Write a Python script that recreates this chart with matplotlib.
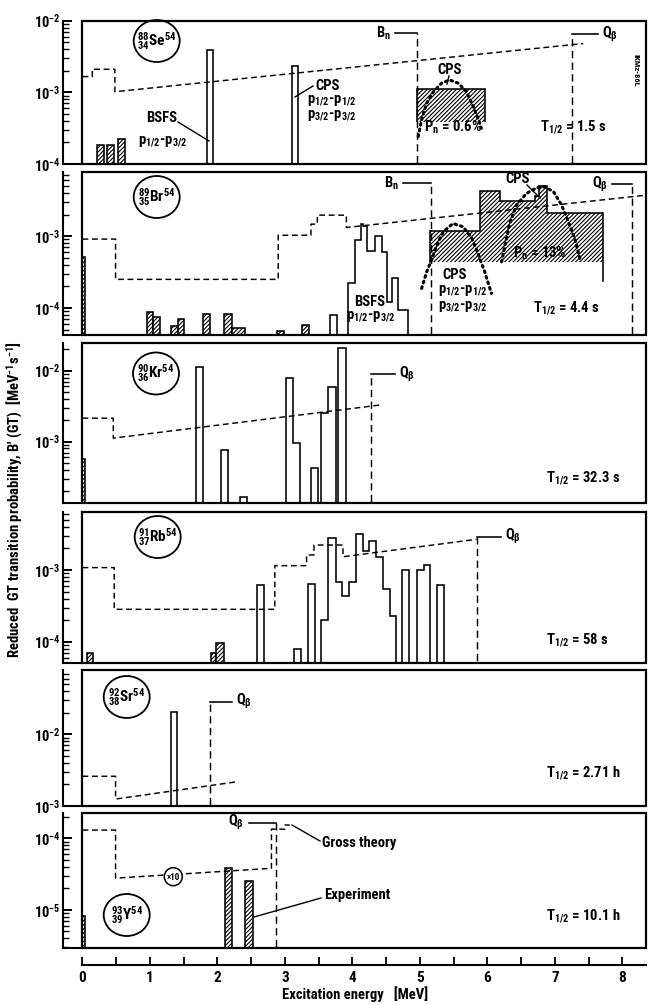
import numpy as np
import matplotlib
matplotlib.use('Agg')
import matplotlib.pyplot as plt
from matplotlib import font_manager
from matplotlib.patches import Ellipse, Rectangle
from matplotlib.lines import Line2D
from matplotlib.ticker import LogLocator, FuncFormatter, NullFormatter, MultipleLocator

names = {f.name for f in font_manager.fontManager.ttflist}
FONT = 'DejaVu Sans'
for cand in ['Roboto Condensed', 'Liberation Sans Narrow', 'Open Sans Condensed', 'DejaVu Sans']:
    if cand in names:
        FONT = cand
        break
plt.rcParams['font.family'] = [FONT, 'DejaVu Sans']
plt.rcParams['font.weight'] = 'bold'
plt.rcParams['mathtext.fontset'] = 'custom'
plt.rcParams['mathtext.rm'] = FONT + ':bold'
plt.rcParams['mathtext.it'] = FONT + ':bold'
plt.rcParams['mathtext.bf'] = FONT + ':bold'
plt.rcParams['hatch.linewidth'] = 0.8

# ---------------- data ----------------
XMAX = 8.35
xticks_major = [0, 1, 2, 3, 4, 5, 6, 7, 8]

# 88Se
se_ylim = (1e-4, 1e-2)
se_theory_x = [0, 0.145, 0.145, 0.48, 0.48, 7.42]
se_theory_y = [1.66e-3, 1.66e-3, 2.1e-3, 2.1e-3, 1.02e-3, 4.8e-3]
se_hatch_l = [0.22, 0.37, 0.53]
se_hatch_r = [0.32, 0.47, 0.63]
se_hatch_v = [1.83e-4, 1.83e-4, 2.26e-4]
se_open_edges = [[1.84, 1.94], [3.10, 3.19]]
se_open_vals = [[3.9e-3], [2.3e-3]]
se_pn_edges = [4.95, 5.96]
se_pn_vals = [1.11e-3]
se_pn_floor = 3.9e-4
se_cps_x = [4.975, 5.024, 5.10, 5.20, 5.32, 5.44, 5.57, 5.69, 5.79, 5.87, 5.91]
se_cps_y = [2.41e-4, 4.12e-4, 7.05e-4, 1.02e-3, 1.34e-3, 1.49e-3, 1.34e-3, 1.02e-3, 6.32e-4, 4.12e-4, 3.15e-4]
se_marks = [(4.95, 6.67e-3, r'B$_n$', 'left', 0.32), (7.26, 6.45e-3, r'Q$_\beta$', 'right', 0.38)]

# 89Br
br_ylim = (4.2e-5, 7.9e-3)
br_theory_x = [0, 0.49, 0.49, 2.90, 2.90, 3.385, 3.385, 3.48, 3.48, 3.91, 3.91, 8.33]
br_theory_y = [9.1e-4, 9.1e-4, 2.5e-4, 2.5e-4, 1.03e-3, 1.03e-3, 1.47e-3, 1.47e-3, 1.96e-3, 1.96e-3, 1.32e-3, 3.7e-3]
br_hatch_l = [0.0, 0.95, 1.05, 1.31, 1.41, 1.79, 2.09, 2.21, 2.88, 3.25]
br_hatch_r = [0.04, 1.05, 1.15, 1.41, 1.51, 1.89, 2.21, 2.41, 2.98, 3.35]
br_hatch_v = [5.1e-4, 8.8e-5, 7.5e-5, 5.6e-5, 7.0e-5, 8.2e-5, 8.2e-5, 5.3e-5, 4.7e-5, 5.7e-5]
br_open_edges = [[3.67, 3.77], [3.94, 4.04, 4.12, 4.16, 4.21, 4.33, 4.44, 4.51, 4.58, 4.68, 4.83]]
br_open_vals = [[7.9e-5], [2.2e-4, 8.8e-4, 1.5e-3, 1.38e-3, 6.2e-4, 1.0e-3, 6.0e-4, 1.2e-4, 2.6e-4, 9.5e-5]]
br_pn_edges = [5.15, 5.89, 6.19, 6.70, 6.77, 6.89, 7.72]
br_pn_vals = [1.19e-3, 4.2e-3, 3.1e-3, 3.6e-3, 5.0e-3, 2.07e-3]
br_pn_floor = 4.3e-4
br_pn_right_low = 2.4e-4
br_cps1_x = [5.025, 5.10, 5.17, 5.25, 5.345, 5.49, 5.64, 5.77, 5.86, 5.96, 6.06]
br_cps1_y = [1.87e-4, 3.18e-4, 4.62e-4, 7.48e-4, 1.15e-3, 1.50e-3, 1.35e-3, 9.3e-4, 5.74e-4, 3.18e-4, 1.59e-4]
br_cps2_x = [6.21, 6.26, 6.33, 6.43, 6.58, 6.73, 6.85, 6.98, 7.10, 7.20, 7.30, 7.37]
br_cps2_y = [4.39e-4, 7.48e-4, 1.50e-3, 2.70e-3, 3.94e-3, 4.72e-3, 4.88e-3, 4.15e-3, 2.70e-3, 1.58e-3, 8.8e-4, 4.89e-4]
br_marks = [(5.16, 5.43e-3, r'B$_n$', 'left', 0.41), (8.14, 5.25e-3, r'Q$_\beta$', 'left', 0.30)]

# 90Kr
kr_ylim = (1.35e-4, 2.48e-2)
kr_theory_x = [0, 0.456, 0.456, 4.43]
kr_theory_y = [2.14e-3, 2.14e-3, 1.12e-3, 3.3e-3]
kr_hatch_l = [0.0]
kr_hatch_r = [0.04]
kr_hatch_v = [5.6e-4]
kr_open_edges = [[1.68, 1.78], [2.05, 2.15], [2.34, 2.44], [3.01, 3.12, 3.22], [3.385, 3.49], [3.54, 3.64, 3.75], [3.79, 3.90]]
kr_open_vals = [[1.14e-2], [7.5e-4], [1.68e-4], [7.8e-3, 9.5e-4], [4.2e-4], [2.5e-3, 5.8e-3], [2.1e-2]]
kr_marks = [(4.28, 8.9e-3, r'Q$_\beta$', 'right', 0.35)]

# 91Rb
rb_ylim = (5.1e-5, 6.5e-3)
rb_theory_x = [0, 0.47, 0.47, 2.85, 2.85, 3.32, 3.32, 3.43, 3.43, 3.86, 3.86, 5.84]
rb_theory_y = [1.08e-3, 1.08e-3, 2.83e-4, 2.83e-4, 1.15e-3, 1.15e-3, 1.62e-3, 1.62e-3, 2.23e-3, 2.23e-3, 1.53e-3, 2.68e-3]
rb_hatch_l = [0.06, 1.90, 1.98]
rb_hatch_r = [0.15, 1.98, 2.09]
rb_hatch_v = [7.0e-5, 7.0e-5, 9.5e-5]
rb_open_edges = [[2.58, 2.69], [3.13, 3.24], [3.34, 3.44],
                 [3.54, 3.64, 3.75, 3.85, 3.95, 4.05, 4.15, 4.24, 4.35, 4.45, 4.55, 4.64],
                 [4.74, 4.84], [4.95, 5.06, 5.15], [5.25, 5.36]]
rb_open_vals = [[6.2e-4], [7.9e-5], [6.4e-4],
                [2.0e-4, 2.8e-3, 6.9e-4, 4.4e-4, 6.9e-4, 3.15e-3, 1.86e-3, 2.56e-3, 1.5e-3, 5.4e-4, 2.3e-4],
                [1.0e-3], [1.0e-3, 1.17e-3], [6.2e-4]]
rb_marks = [(5.84, 2.92e-3, r'Q$_\beta$', 'right', 0.36)]

# 92Sr
sr_ylim = (1e-3, 7.9e-2)
sr_theory_x = [0, 0.49, 0.49, 2.26]
sr_theory_y = [2.6e-3, 2.6e-3, 1.25e-3, 2.16e-3]
sr_hatch_l, sr_hatch_r, sr_hatch_v = [], [], []
sr_open_edges = [[1.31, 1.40]]
sr_open_vals = [[2.07e-2]]
sr_marks = [(1.89, 2.85e-2, r'Q$_\beta$', 'right', 0.32)]

# 93Y
y_ylim = (2.9e-6, 2.23e-4)
y_theory_x = [0, 0.49, 0.49, 2.80, 2.80, 3.00, 3.00, 3.07]
y_theory_y = [1.3e-4, 1.3e-4, 2.77e-5, 3.8e-5, 1.34e-4, 1.34e-4, 1.53e-4, 1.53e-4]
y_hatch_l = [0.0, 2.11, 2.41]
y_hatch_r = [0.04, 2.21, 2.53]
y_hatch_v = [8.2e-6, 3.8e-5, 2.5e-5]
y_open_edges, y_open_vals = [], []
y_marks = [(2.86, 1.65e-4, r'Q$_\beta$', 'left', 0.40)]

# ---------------- drawing ----------------
W, H = 655, 1005
fig = plt.figure(figsize=(W / 100, H / 100), dpi=100)
LW = 1.15
HATCH = '////////'


def F(x, y):
    return (x / W, 1 - y / H)


def make_ax(top, bot, ylim):
    l, r = 82.5 / W, 646 / W
    ax = fig.add_axes([l, 1 - bot / H, r - l, (bot - top) / H])
    ax.set_yscale('log')
    ax.set_xlim(0, XMAX)
    ax.set_ylim(*ylim)
    for s in ax.spines.values():
        s.set_visible(False)
    ax.spines['left'].set_visible(True)
    ax.spines['left'].set_position(('outward', 19 * 0.72))
    ax.spines['left'].set_linewidth(1.5)
    ax.add_patch(Rectangle((0, 0), 1, 1, transform=ax.transAxes, fill=False,
                           lw=1.6, ec='black', clip_on=False, zorder=6))
    ax.tick_params(axis='y', which='both', direction='in', left=True, right=False)
    ax.tick_params(axis='y', which='major', length=6.5, width=1.4, labelsize=10.5, pad=2)
    ax.tick_params(axis='y', which='minor', length=4.5, width=1.0)
    ax.yaxis.set_major_locator(LogLocator(base=10, numticks=12))
    ax.yaxis.set_minor_locator(LogLocator(base=10, subs=np.arange(2, 10), numticks=12))
    ax.yaxis.set_major_formatter(FuncFormatter(lambda v, p: r'10$^{%d}$' % round(np.log10(v))))
    ax.yaxis.set_minor_formatter(NullFormatter())
    ax.set_xticks([])
    fig.add_artist(Line2D([63 / W, 82.5 / W], [1 - bot / H] * 2, color='black', lw=1.5))
    return ax


def draw_panel(ax, ylim, tx, ty, hl, hr, hv, oe, ov, marks):
    low = ylim[0] * 0.5
    ax.plot(tx, ty, color='black', lw=1.05, ls=(0, (4, 2.5)), zorder=4)
    if hl:
        ax.bar(hl, np.array(hv) - low, width=np.subtract(hr, hl), bottom=low, align='edge',
               facecolor='white', edgecolor='black', hatch=HATCH, lw=LW, zorder=3)
    for e, v in zip(oe, ov):
        ax.stairs(v, e, baseline=low, color='black', lw=LW, zorder=3)
    for (x, top, lab, side, hlen) in marks:
        ax.plot([x, x], [low, top], color='black', lw=1.05, ls=(0, (5, 3)), zorder=3)
        x2 = x - hlen if side == 'left' else x + hlen
        ax.plot([x, x2], [top, top], color='black', lw=LW, zorder=3)
        ax.text(x2 + (-0.06 if side == 'left' else 0.06), top, lab,
                ha='right' if side == 'left' else 'left', va='center', fontsize=10.5)


def hatched_region(ax, edges, vals, floor):
    ax.fill_between(edges, floor, list(vals) + [vals[-1]], step='post', facecolor='none',
                    edgecolor='black', hatch=HATCH, linewidth=0, zorder=2)
    ax.stairs(vals, edges, baseline=None, color='black', lw=LW, zorder=3)
    ax.plot([edges[0]] * 2, [floor, vals[0]], color='black', lw=LW, zorder=3)


def nucleus(cx, cy, text):
    fig.add_artist(Ellipse(F(cx, cy), 46 / W, 42 / H, transform=fig.transFigure,
                           fill=False, lw=1.3, ec='black'))
    fig.text(*F(cx, cy), text, ha='center', va='center', fontsize=11)


def T(x, y, s, fs=10.5, ha='center', **kw):
    fig.text(*F(x, y), s, ha=ha, va='center', fontsize=fs, **kw)


def L(x1, y1, x2, y2, lw=1.0):
    fig.add_artist(Line2D([x1 / W, x2 / W], [1 - y1 / H, 1 - y2 / H], color='black', lw=lw))


dotted = dict(color='black', lw=2.2, ls=(0, (0.6, 1.3)), dash_capstyle='round', zorder=5)

# Se
ax1 = make_ax(20.7, 164, se_ylim)
draw_panel(ax1, se_ylim, se_theory_x, se_theory_y, se_hatch_l, se_hatch_r, se_hatch_v,
           se_open_edges, se_open_vals, se_marks)
ax1.fill_between(se_pn_edges, se_pn_floor, se_pn_vals + se_pn_vals, step='post', facecolor='white',
                 edgecolor='black', hatch=HATCH, linewidth=0, zorder=2)
ax1.stairs(se_pn_vals, se_pn_edges, baseline=se_pn_floor, color='black', lw=LW, zorder=3)
ax1.plot(se_cps_x, se_cps_y, **dotted)
nucleus(156.7, 41, r'${}^{88}_{34}$Se$^{54}$')
T(315, 86, 'CPS', ha='left')
T(306.7, 101, r'p$_{1/2}$-p$_{1/2}$', ha='left')
T(306.7, 116, r'p$_{3/2}$-p$_{3/2}$', ha='left')
L(313, 86, 295, 97)
T(162, 118, 'BSFS')
T(163, 142, r'p$_{1/2}$-p$_{3/2}$')
L(178, 122, 209, 141)
T(450, 70, 'CPS')
L(449, 76, 447, 84)
T(453, 127, r'P$_n$ = 0.6%')
T(573, 127, r'T$_{1/2}$ = 1.5 s')
T(636, 70, 'IKMz-86L', fs=6, rotation=270)

# Br
ax2 = make_ax(171.7, 335, br_ylim)
draw_panel(ax2, br_ylim, br_theory_x, br_theory_y, br_hatch_l, br_hatch_r, br_hatch_v,
           br_open_edges, br_open_vals, br_marks)
hatched_region(ax2, br_pn_edges, br_pn_vals, br_pn_floor)
ax2.plot([br_pn_edges[-1]] * 2, [br_pn_right_low, br_pn_vals[-1]], color='black', lw=LW, zorder=3)
ax2.plot(br_cps1_x, br_cps1_y, **dotted)
ax2.plot(br_cps2_x, br_cps2_y, **dotted)
nucleus(156.7, 197, r'${}^{89}_{35}$Br$^{54}$')
T(518, 179, 'CPS')
L(527, 185, 540, 198)
T(455, 275, 'CPS')
T(438, 291, r'p$_{1/2}$-p$_{1/2}$', ha='left')
T(438, 307, r'p$_{3/2}$-p$_{3/2}$', ha='left')
T(370, 302, 'BSFS')
T(371, 317, r'p$_{1/2}$-p$_{3/2}$')
T(540, 253, r'P$_n$ = 13%')
T(566, 308, r'T$_{1/2}$ = 4.4 s')

# Kr
ax3 = make_ax(342.7, 503.3, kr_ylim)
draw_panel(ax3, kr_ylim, kr_theory_x, kr_theory_y, kr_hatch_l, kr_hatch_r, kr_hatch_v,
           kr_open_edges, kr_open_vals, kr_marks)
nucleus(156, 373.5, r'${}^{90}_{36}$Kr$^{54}$')
T(583, 478, r'T$_{1/2}$ = 32.3 s')

# Rb
ax4 = make_ax(511.7, 662.7, rb_ylim)
draw_panel(ax4, rb_ylim, rb_theory_x, rb_theory_y, rb_hatch_l, rb_hatch_r, rb_hatch_v,
           rb_open_edges, rb_open_vals, rb_marks)
nucleus(157.7, 537, r'${}^{91}_{37}$Rb$^{54}$')
T(577, 640, r'T$_{1/2}$ = 58 s')

# Sr
ax5 = make_ax(670, 806, sr_ylim)
draw_panel(ax5, sr_ylim, sr_theory_x, sr_theory_y, sr_hatch_l, sr_hatch_r, sr_hatch_v,
           sr_open_edges, sr_open_vals, sr_marks)
nucleus(126.7, 697, r'${}^{92}_{38}$Sr$^{54}$')
T(583, 773, r'T$_{1/2}$ = 2.71 h')

# Y
ax6 = make_ax(813.3, 948.3, y_ylim)
draw_panel(ax6, y_ylim, y_theory_x, y_theory_y, y_hatch_l, y_hatch_r, y_hatch_v,
           y_open_edges, y_open_vals, y_marks)
nucleus(126.7, 915, r'${}^{93}_{39}$Y$^{54}$')
fig.add_artist(Ellipse(F(173.3, 876.7), 18 / W, 18 / H, transform=fig.transFigure,
                       facecolor='white', lw=1.1, ec='black', zorder=5))
T(173.3, 877, '×10', fs=6.5, zorder=6)
T(322, 843, 'Gross theory', ha='left')
L(292, 825, 320, 841)
T(324, 895, 'Experiment', ha='left')
L(321, 898, 254, 917)
T(583, 916, r'T$_{1/2}$ = 10.1 h')

ax6.spines['bottom'].set_visible(True)
ax6.spines['bottom'].set_position(('outward', 16.7 * 0.72))
ax6.spines['bottom'].set_linewidth(1.5)
ax6.set_xticks(xticks_major)
ax6.xaxis.set_minor_locator(MultipleLocator(0.5))
ax6.tick_params(axis='x', which='both', direction='in', length=6, width=1.3, top=False)
ax6.tick_params(axis='x', which='major', labelsize=11, pad=4)

fig.text(*F(15, 500), "Reduced  GT transition probability, B' (GT)  [MeV$^{-1}$s$^{-1}$]",
         rotation=90, ha='center', va='center', fontsize=10.5)
fig.text(*F(355, 994), 'Excitation energy   [MeV]', ha='center', va='center', fontsize=10.5)

fig.savefig('out.png', dpi=100, facecolor='white')
